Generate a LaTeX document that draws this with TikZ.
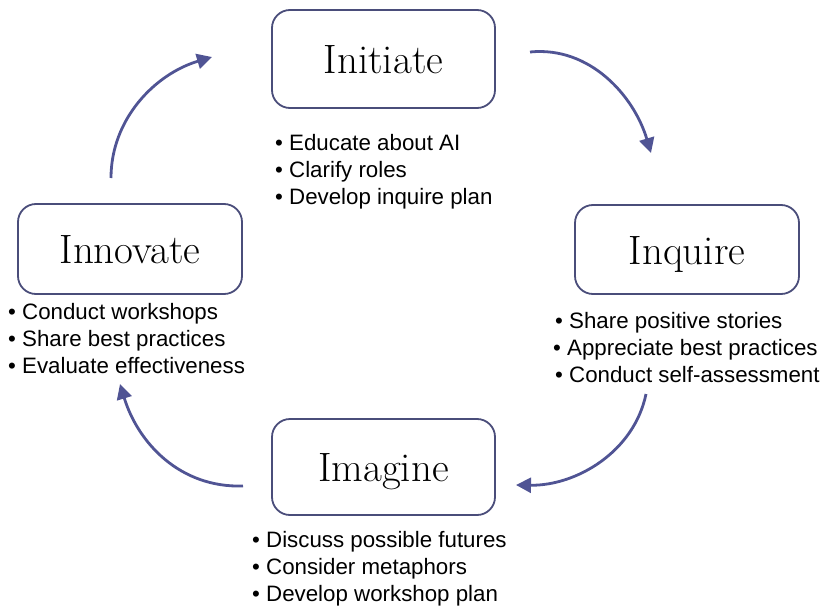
\documentclass[tikz,border=0pt]{standalone}
\usepackage{fontspec}
\setsansfont{Liberation Sans}
\usetikzlibrary{arrows.meta}
\definecolor{cyclearrow}{RGB}{80,84,148}
\definecolor{stageborder}{RGB}{74,77,122}
\tikzset{
  stagebox/.style={draw=stageborder, line width=1.8pt, rounded corners=18pt,
    inner sep=0pt, text height=29pt, text depth=0pt,
    font=\fontsize{41}{41}\selectfont},
  bullet/.style={anchor=base west, inner sep=0pt,
    font=\sffamily\fontsize{22.3}{22.3}\selectfont},
  cycle/.style={draw=cyclearrow, line width=2.8pt,
    -{Triangle[length=15pt,width=15pt]}}
}
\begin{document}
\begin{tikzpicture}[x=1pt,y=-1pt]
\useasboundingbox (0,0) rectangle (822,610);

% stage boxes
\node[stagebox, minimum width=223pt, minimum height=98pt] (initiate) at (383.5,59) {Initiate};
\node[stagebox, minimum width=224pt, minimum height=89pt] (inquire) at (687,249.5) {Inquire};
\node[stagebox, minimum width=223pt, minimum height=96pt] (imagine) at (383.5,467) {Imagine};
\node[stagebox, minimum width=224pt, minimum height=90pt] (innovate) at (130,249) {Innovate};

% activities under each stage
\node[bullet] (init1) at (275,150.5) {• Educate about AI};
\node[bullet] (init2) at (275,177.5) {• Clarify roles};
\node[bullet] (init3) at (275,204.5) {• Develop inquire plan};

\node[bullet] (inq1) at (555,328) {• Share positive stories};
\node[bullet] (inq2) at (553,355) {• Appreciate best practices};
\node[bullet] (inq3) at (555,382) {• Conduct self-assessment};

\node[bullet] (ima1) at (252,547) {• Discuss possible futures};
\node[bullet] (ima2) at (252,574) {• Consider metaphors};
\node[bullet] (ima3) at (252,601) {• Develop workshop plan};

\node[bullet] (inn1) at (8,319) {• Conduct workshops};
\node[bullet] (inn2) at (8,346) {• Share best practices};
\node[bullet] (inn3) at (8,373) {• Evaluate effectiveness};

% cycle arrows
\coordinate (a1s) at (530,52);
\coordinate (a1e) at (651,153);
\coordinate (a2s) at (646,394);
\coordinate (a2e) at (516,485);
\coordinate (a3s) at (243,486);
\coordinate (a3e) at (120,384);
\coordinate (a4s) at (111,178);
\coordinate (a4e) at (212,57);

\draw[cycle] (a1s) .. controls (590,46) and (634,96) .. (a1e);
\draw[cycle] (a2s) .. controls (634,452) and (576,486) .. (a2e);
\draw[cycle] (a3s) .. controls (180,488) and (138,443) .. (a3e);
\draw[cycle] (a4s) .. controls (111,119) and (155,74) .. (a4e);
\end{tikzpicture}
\end{document}
